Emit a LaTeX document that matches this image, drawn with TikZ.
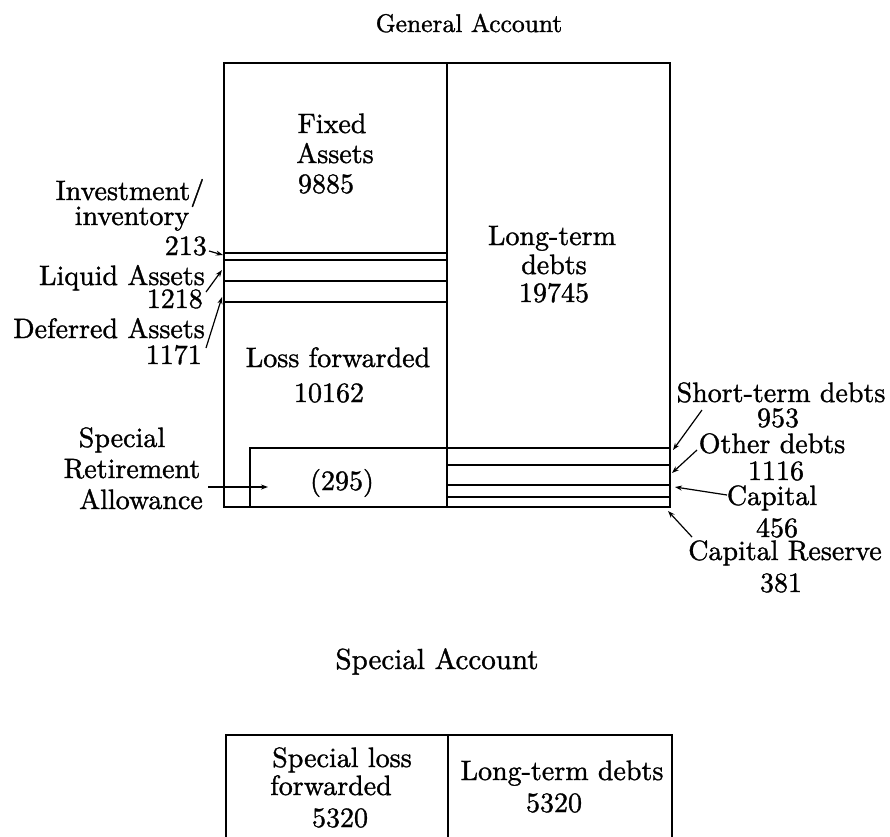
\documentclass[tikz,border=0pt]{standalone}
\usepackage{fontspec}
\newfontfamily\reffont{lmroman10-regular}[Extension=.otf, FakeBold=1.2]
\usetikzlibrary{arrows.meta}
\begin{document}
\begin{tikzpicture}[x=1pt,y=-1pt,
  lbl/.style={font=\reffont\fontsize{28}{30}\selectfont, inner sep=0pt, anchor=base},
  lblr/.style={lbl, anchor=base east},
  gtitlestyle/.style={lbl, font=\reffont\fontsize{25.5}{27}\selectfont},
  stitlestyle/.style={lbl, font=\reffont\fontsize{29}{31}\selectfont},
  frame/.style={line width=1.5pt},
  strip/.style={line width=1.3pt},
  pointer/.style={line width=1.2pt, -{Stealth[length=7pt,width=5pt]}}]
\useasboundingbox (0,0) rectangle (890,836);

% ---------- General Account ----------
\node[gtitlestyle] (gtitle) at (469,32) {General Account};

\draw[frame] (224,63) rectangle (670,507);
\draw[frame] (447,63) -- (447,507);
% left column strips
\draw[strip] (224,253) -- (447,253);
\draw[strip] (224,260) -- (447,260);
\draw[strip] (224,281) -- (447,281);
\draw[strip] (224,302) -- (447,302);
% special retirement allowance box
\draw[strip] (250,507) -- (250,448) -- (670,448);
% right column strips
\draw[strip] (447,465) -- (670,465);
\draw[strip] (447,485) -- (670,485);
\draw[strip] (447,497) -- (670,497);

\node[lbl] (fixA) at (332,133) {Fixed};
\node[lbl] (fixB) at (335,163) {Assets};
\node[lbl] (fixC) at (326,193) {9885};

\node[lbl] (invA) at (130,200) {Investment/};
\node[lbl] (invB) at (132,225) {inventory};
\node[lblr] (invC) at (207,255) {213};
\node[lblr] (liqA) at (205,285) {Liquid Assets};
\node[lblr] (liqB) at (203,308) {1218};
\node[lblr] (defA) at (205,338) {Deferred Assets};
\node[lblr] (defB) at (202,364) {1171};

\node[lbl] (lossA) at (338,367) {Loss forwarded};
\node[lbl] (lossB) at (329,402) {10162};
\node[lbl] (sra) at (342,490) {(295)};

\node[lbl] (sraA) at (122,447) {Special};
\node[lbl] (sraB) at (132,478) {Retirement};
\node[lbl] (sraC) at (141,509) {Allowance};

\node[lbl] (ltA) at (552,245) {Long-term};
\node[lbl] (ltB) at (554,274) {debts};
\node[lbl] (ltC) at (554,302) {19745};

\node[lbl] (stA) at (781,402) {Short-term debts};
\node[lbl] (stB) at (778,427) {953};
\node[lbl] (odA) at (772,453) {Other debts};
\node[lbl] (odB) at (776,480) {1116};
\node[lbl] (capA) at (772,505) {Capital};
\node[lbl] (capB) at (777,537) {456};
\node[lbl] (crA) at (785,560) {Capital Reserve};
\node[lbl] (crB) at (781,592) {381};

% arrows
\coordinate (s213) at (209,251);  \coordinate (t213) at (223,255);
\coordinate (sliq) at (206,292);  \coordinate (tliq) at (222,270);
\coordinate (sdef) at (206,348);  \coordinate (tdef) at (222,297);
\coordinate (ssra) at (208,487);  \coordinate (tsra) at (268,487);
\coordinate (sst) at (702,410);   \coordinate (tst) at (673,450);
\coordinate (sod) at (697,450);   \coordinate (tod) at (672,473);
\coordinate (scap) at (727,495);  \coordinate (tcap) at (675,487);
\coordinate (scr) at (692,537);   \coordinate (tcr) at (668,511);

\draw[pointer] (s213) -- (t213);
\draw[pointer] (sliq) -- (tliq);
\draw[pointer] (sdef) -- (tdef);
\draw[pointer] (ssra) -- (tsra);
\draw[pointer] (sst) -- (tst);
\draw[pointer] (sod) -- (tod);
\draw[pointer] (scap) -- (tcap);
\draw[pointer] (scr) -- (tcr);

% ---------- Special Account ----------
\node[stitlestyle] (stitle) at (437,669) {Special Account};

\draw[frame] (226,840) -- (226,735) -- (672,735) -- (672,840);
\draw[frame] (448,735) -- (448,840);

\node[lbl] (slA) at (342,767) {Special loss};
\node[lbl] (slB) at (331,795) {forwarded};
\node[lbl] (slC) at (340,827) {5320};
\node[lbl] (sdA) at (562,780) {Long-term debts};
\node[lbl] (sdB) at (554,812) {5320};
\end{tikzpicture}
\end{document}
